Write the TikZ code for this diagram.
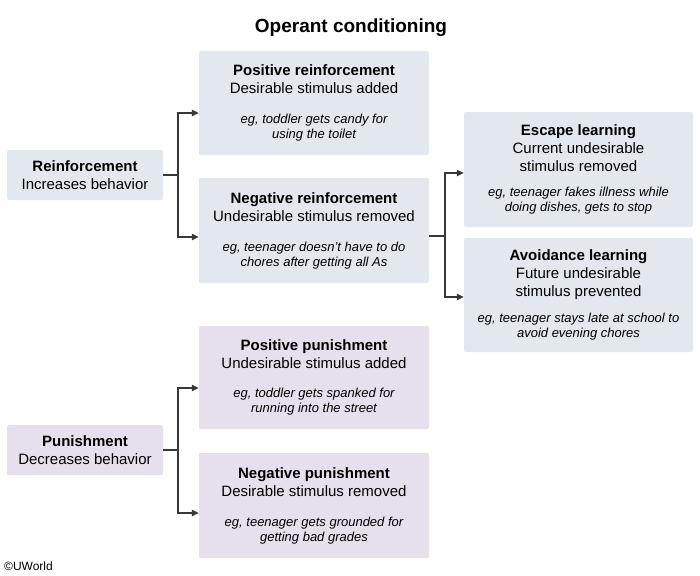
\documentclass[tikz,border=0pt]{standalone}
\usepackage{fontspec}
\setmainfont{Liberation Sans}
\usetikzlibrary{arrows.meta}
\definecolor{boxblue}{HTML}{E2E8EE}
\definecolor{boxpurple}{HTML}{E5E0EB}
\definecolor{linegray}{HTML}{383838}
\newcommand\mainsize{\fontsize{15}{18}\selectfont}
\newcommand\egfont{\fontsize{13}{15}\selectfont\itshape}
\newcommand\boxtext[4]{\textbf{#1}\\#2\par\vspace{#4}{\egfont #3\par}}
\tikzset{
  box/.style={rectangle, rounded corners=2pt, inner sep=0pt, align=flush center, font=\mainsize},
  bluebox/.style={box, fill=boxblue},
  purplebox/.style={box, fill=boxpurple},
  conn/.style={draw=linegray, line width=1.2pt},
  arr/.style={conn, -{Triangle[length=7pt,width=6.5pt]}}
}
\begin{document}
\begin{tikzpicture}[x=1pt,y=1pt]
\useasboundingbox (0,0) rectangle (700,-575);
\node[font=\fontsize{19}{22}\selectfont\bfseries, anchor=base] (title) at (351,-33) {Operant conditioning};

\node[bluebox, text width=156pt, minimum width=156pt, minimum height=50pt] (reinf) at (85,-175)
  {\textbf{Reinforcement}\\Increases behavior};
\node[bluebox, text width=230pt, minimum width=230pt, minimum height=104pt] (pr) at (314,-103)
  {\boxtext{Positive reinforcement}{Desirable stimulus added}{eg, toddler gets candy for\\using the toilet}{15pt}};
\node[bluebox, text width=230pt, minimum width=230pt, minimum height=105pt] (nr) at (314,-230.5)
  {\boxtext{Negative reinforcement}{Undesirable stimulus removed}{eg, teenager doesn’t have to do\\chores after getting all As}{15pt}};
\node[bluebox, text width=229pt, minimum width=229pt, minimum height=115pt] (esc) at (578.5,-169.5)
  {\boxtext{Escape learning}{Current undesirable\\stimulus removed}{eg, teenager fakes illness while\\doing dishes, gets to stop}{10pt}};
\node[bluebox, text width=229pt, minimum width=229pt, minimum height=114pt] (avo) at (578.5,-295)
  {\boxtext{Avoidance learning}{Future undesirable\\stimulus prevented}{eg, teenager stays late at school to\\avoid evening chores}{11pt}};

\node[purplebox, text width=156pt, minimum width=156pt, minimum height=50pt] (pun) at (85,-450)
  {\textbf{Punishment}\\Decreases behavior};
\node[purplebox, text width=230pt, minimum width=230pt, minimum height=103pt] (pp) at (314,-377.5)
  {\boxtext{Positive punishment}{Undesirable stimulus added}{eg, toddler gets spanked for\\running into the street}{14.5pt}};
\node[purplebox, text width=230pt, minimum width=230pt, minimum height=105pt] (np) at (314,-505.5)
  {\boxtext{Negative punishment}{Desirable stimulus removed}{eg, teenager gets grounded for\\getting bad grades}{15pt}};

\node[font=\fontsize{12}{14}\selectfont, anchor=base west, inner sep=0pt] (copy) at (4,-570) {©UWorld};

% connectors
\coordinate (j1) at (178,-175);
\draw[conn] (reinf.east) -- (j1);
\draw[arr] (j1) |- ([yshift=-10pt]pr.west);
\draw[arr] (j1) |- ([yshift=-6.5pt]nr.west);

\coordinate (j2) at (445,-236);
\draw[conn] (nr.east |- j2) -- (j2);
\draw[arr] (j2) |- ([yshift=-3.5pt]esc.west);
\draw[arr] (j2) |- ([yshift=-2pt]avo.west);

\coordinate (j3) at (178,-450);
\draw[conn] (pun.east) -- (j3);
\draw[arr] (j3) |- ([yshift=-10.5pt]pp.west);
\draw[arr] (j3) |- ([yshift=-7.5pt]np.west);
\end{tikzpicture}
\end{document}
